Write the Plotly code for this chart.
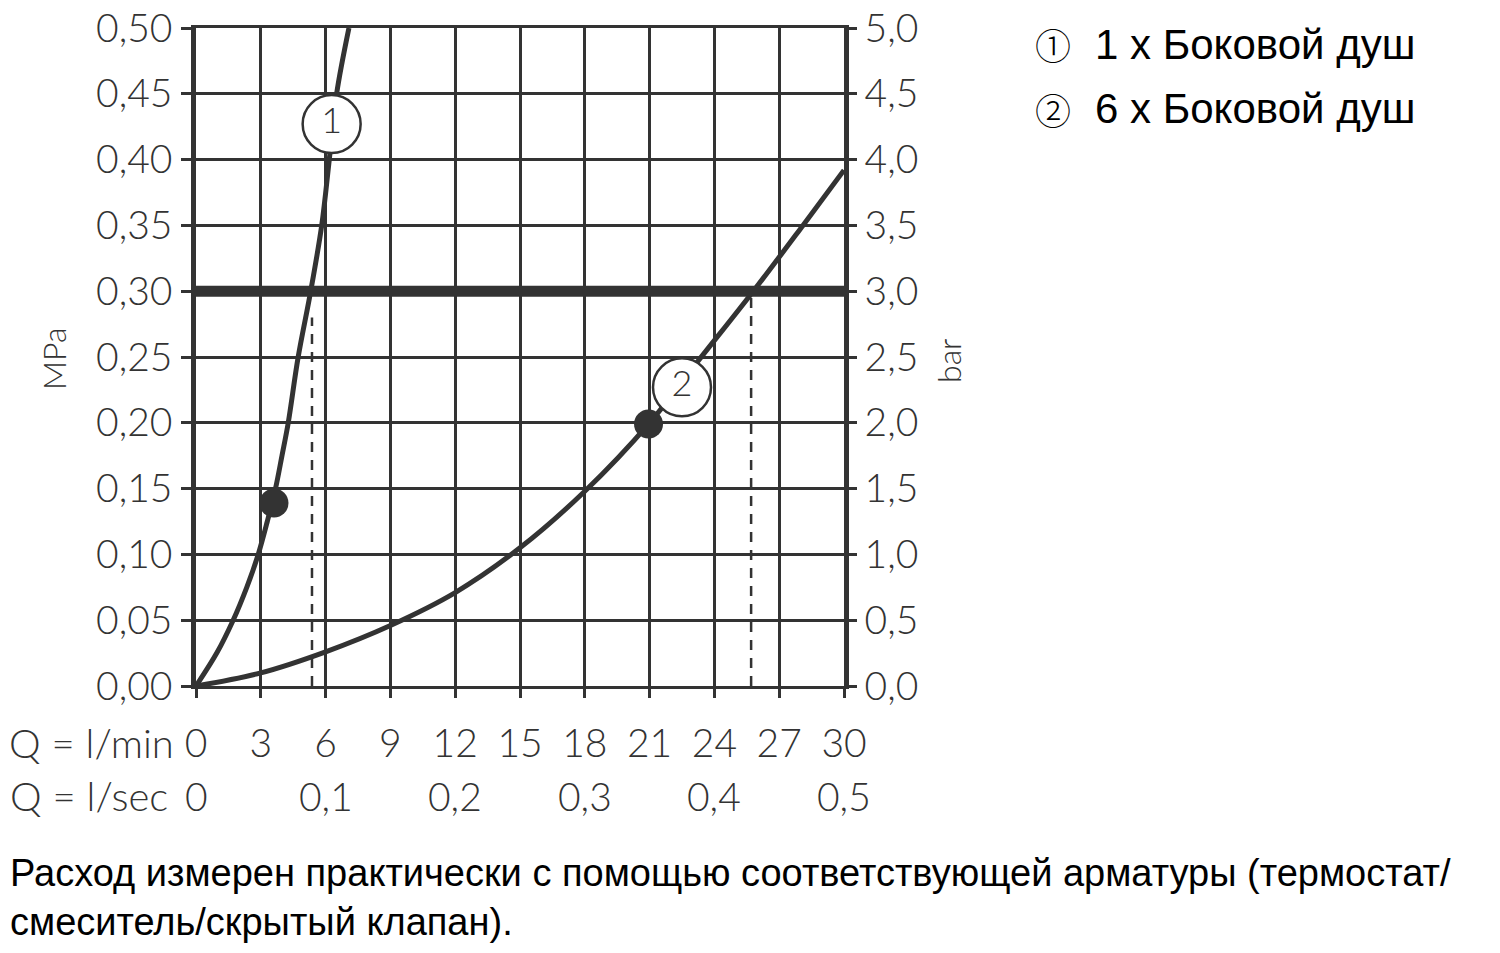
import plotly.graph_objects as go

# ---- data ----
flow_lmin_ticks = [0, 3, 6, 9, 12, 15, 18, 21, 24, 27, 30]
flow_lsec_vals = [0, 0.1, 0.2, 0.3, 0.4, 0.5]
flow_lsec_text = ["0", "0,1", "0,2", "0,3", "0,4", "0,5"]
mpa_ticks = [0.0, 0.05, 0.10, 0.15, 0.20, 0.25, 0.30, 0.35, 0.40, 0.45, 0.50]
mpa_text = ["0,00", "0,05", "0,10", "0,15", "0,20", "0,25", "0,30", "0,35", "0,40", "0,45", "0,50"]
bar_ticks = [0.0, 0.5, 1.0, 1.5, 2.0, 2.5, 3.0, 3.5, 4.0, 4.5, 5.0]
bar_text = ["0,0", "0,5", "1,0", "1,5", "2,0", "2,5", "3,0", "3,5", "4,0", "4,5", "5,0"]

curve1_flow = [0, 0.96, 1.72, 2.35, 2.88, 3.3, 3.68, 3.98, 4.27, 4.73, 5.31, 5.82, 6.17, 6.51, 7.08]
curve1_mpa = [0, 0.025, 0.05, 0.075, 0.10, 0.125, 0.15, 0.175, 0.20, 0.25, 0.30, 0.35, 0.40, 0.45, 0.50]
curve2_flow = [0, 3, 6, 9, 12, 15, 18, 21, 23.2, 25.8, 28.1, 30]
curve2_mpa = [0, 0.010, 0.026, 0.046, 0.071, 0.105, 0.148, 0.200, 0.246, 0.30, 0.35, 0.392]

dot_flow = [3.61, 20.95]
dot_mpa = [0.139, 0.199]
label_flow = [6.28, 22.5]
label_mpa = [0.427, 0.227]
label_text = ["1", "2"]

ref_pressure = 0.30
dash_flow = [5.37, 25.7]
dash_top = [0.28, 0.30]

legend_symbols = ["①", "②"]
legend_texts = ["1 x Боковой душ", "6 x Боковой душ"]
note_lines = ["Расход измерен практически с помощью соответствующей арматуры (термостат/",
              "смеситель/скрытый клапан)."]

C = "#333333"
TF = "Lato"
AF = "Liberation Sans"

fig = go.Figure()

fig.add_trace(go.Scatter(x=curve1_flow, y=curve1_mpa, mode="lines",
                         line=dict(color=C, width=5, shape="spline", smoothing=1.0),
                         hoverinfo="skip", showlegend=False))
fig.add_trace(go.Scatter(x=curve2_flow, y=curve2_mpa, mode="lines",
                         line=dict(color=C, width=5, shape="spline", smoothing=1.0),
                         hoverinfo="skip", showlegend=False))
fig.add_trace(go.Scatter(x=[0, 30], y=[ref_pressure, ref_pressure], mode="lines",
                         line=dict(color=C, width=11), hoverinfo="skip", showlegend=False))
for fx, ft in zip(dash_flow, dash_top):
    fig.add_trace(go.Scatter(x=[fx, fx], y=[0, ft], mode="lines",
                             line=dict(color=C, width=2.5, dash="10px,8px"),
                             hoverinfo="skip", showlegend=False))
fig.add_trace(go.Scatter(x=dot_flow, y=dot_mpa, mode="markers",
                         marker=dict(size=29, color=C, line=dict(width=0)),
                         hoverinfo="skip", showlegend=False))
fig.add_trace(go.Scatter(x=label_flow, y=label_mpa, mode="markers+text",
                         text=label_text, textposition="middle center",
                         textfont=dict(family=TF, size=36, color=C, weight=300),
                         marker=dict(size=58, color="white", line=dict(color=C, width=2.5)),
                         hoverinfo="skip", showlegend=False))
fig.add_trace(go.Scatter(x=[0], y=[0], yaxis="y2", mode="markers",
                         marker=dict(opacity=0), hoverinfo="skip", showlegend=False))

tf = dict(family=TF, size=39, color=C, weight=300)
qf = dict(family=TF, size=40, color=C, weight=300)

annotations = []
annotations.append(dict(text="Q = l/min", xref="paper", x=0, xanchor="right", xshift=-20,
                        yref="y", y=0, yanchor="middle", yshift=-57, showarrow=False, font=qf))
annotations.append(dict(text="Q = l/sec", xref="paper", x=0, xanchor="right", xshift=-26,
                        yref="y", y=0, yanchor="middle", yshift=-110, showarrow=False, font=qf))
for v, t in zip(flow_lsec_vals, flow_lsec_text):
    annotations.append(dict(text=t, xref="x", x=v * 60, xanchor="center",
                            yref="y", y=0, yanchor="middle", yshift=-110, showarrow=False, font=tf))
annotations.append(dict(text="MPa", xref="paper", x=0, xshift=-143, xanchor="center",
                        yref="y", y=0.25, yshift=-2, yanchor="middle", textangle=-90,
                        showarrow=False, font=dict(family=TF, size=32, color=C, weight=300)))
annotations.append(dict(text="bar", xref="paper", x=1, xshift=104, xanchor="center",
                        yref="y", y=0.25, yshift=-4, yanchor="middle", textangle=-90,
                        showarrow=False, font=dict(family=TF, size=32, color=C, weight=300)))
for i, (s, t) in enumerate(zip(legend_symbols, legend_texts)):
    ypx = 44 + i * 65
    annotations.append(dict(text=s, xref="paper", x=(1033 - 196) / 648, xanchor="left",
                            yref="paper", y=(686 - ypx) / 658, yanchor="middle",
                            showarrow=False,
                            font=dict(family="Noto Sans CJK SC", size=36, color="black", weight=300)))
    annotations.append(dict(text=t, xref="paper", x=(1093 - 196) / 648, xanchor="left",
                            yref="paper", y=(686 - ypx) / 658, yanchor="middle",
                            showarrow=False, font=dict(family=AF, size=42, color="black")))
for i, line in enumerate(note_lines):
    ypx = 873 + i * 49
    annotations.append(dict(text=line, xref="paper", x=(8 - 196) / 648, xanchor="left",
                            yref="paper", y=(686 - ypx) / 658, yanchor="middle",
                            showarrow=False, font=dict(family=AF, size=38, color="black")))

# page body has an 8px margin: figure is 1484x937 placed at (8,8)
fig.update_layout(
    width=1484, height=937, autosize=False,
    margin=dict(l=188, r=648, t=20, b=259, pad=0, autoexpand=False),
    paper_bgcolor="white", plot_bgcolor="white",
    showlegend=False,
    xaxis=dict(range=[0, 30], tickvals=flow_lmin_ticks, ticktext=[str(v) for v in flow_lmin_ticks],
               showgrid=True, gridcolor=C, gridwidth=2.5, zeroline=False, automargin=False,
               showline=True, linecolor=C, linewidth=3, mirror=True,
               ticks="outside", ticklen=9, tickwidth=2.5, tickcolor=C,
               ticklabelstandoff=12, ticklabeloverflow="allow", tickfont=tf, fixedrange=True),
    yaxis=dict(range=[0, 0.5], tickvals=mpa_ticks, ticktext=mpa_text,
               showgrid=True, gridcolor=C, gridwidth=2.5, zeroline=False, automargin=False,
               showline=True, linecolor=C, linewidth=4.5, mirror=False,
               ticks="outside", ticklen=10, tickwidth=2.5, tickcolor=C,
               ticklabelstandoff=1, ticklabeloverflow="allow", tickfont=tf, fixedrange=True),
    yaxis2=dict(range=[0, 5], tickvals=bar_ticks, ticktext=bar_text, overlaying="y", side="right",
                showgrid=False, zeroline=False, automargin=False,
                showline=True, linecolor=C, linewidth=4.5,
                ticks="outside", ticklen=8, tickwidth=2.5, tickcolor=C,
                ticklabelstandoff=0, ticklabeloverflow="allow", tickfont=tf, fixedrange=True),
    annotations=annotations,
)

fig.write_html("out.html")
